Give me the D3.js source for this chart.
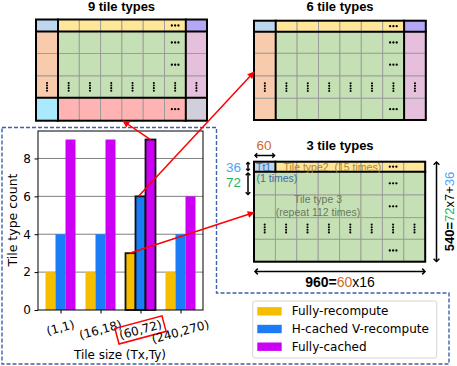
<!DOCTYPE html>
<html><head><meta charset="utf-8">
<script src="https://cdn.jsdelivr.net/npm/d3@7"></script>
<style>body{margin:0;background:#fff}svg{display:block}</style>
</head><body><svg id="c" width="457" height="366"></svg>
<script>
// ---------- data ----------
const categories = ["(1,1)", "(16,18)", "(60,72)", "(240,270)"];
const seriesNames = ["Fully-recompute", "H-cached V-recompute", "Fully-cached"];
const fullyRecompute = [2, 2, 3, 2];
const hCachedVRecompute = [4, 4, 6, 4];
const fullyCached = [9, 9, 9, 6];
const yTicks = [0, 2, 4, 6, 8];
const highlightIndex = 2;
const gridTitles = ["9 tile types", "6 tile types", "3 tile types"];

const colors = ["#f5bf00", "#1a7cf6", "#cc00f5"];
const series = [fullyRecompute, hCachedVRecompute, fullyCached];
const DV = "DejaVu Sans, sans-serif";
const LS = "Liberation Sans, Arial, sans-serif";

const svg = d3.select("#c");
const defs = svg.append("defs");
defs.append("marker").attr("id", "redhead").attr("viewBox", "0 0 10 10")
  .attr("refX", 9).attr("refY", 5).attr("markerWidth", 8).attr("markerHeight", 7)
  .attr("markerUnits", "userSpaceOnUse").attr("orient", "auto")
  .append("path").attr("d", "M0,0 L10,5 L0,10 Z").attr("fill", "#ff0000");

// ---------- dashed outline ----------
svg.append("path")
  .attr("d", "M2,127.5 L216.5,127.5 L216.5,293 L449,293 L449,364 L2,364 Z")
  .attr("fill", "none").attr("stroke", "#3d62a8").attr("stroke-width", 1.4)
  .attr("stroke-dasharray", "4,2");

// ---------- bar chart ----------
const x = d3.scaleLinear().domain([-0.5625, 3.5625]).range([38, 203]);
const y = d3.scaleLinear().domain([0, 9.45]).range([310, 131]);
const chart = svg.append("g");

chart.selectAll("line.grid").data(yTicks.filter(d => d > 0)).join("line")
  .attr("x1", 38).attr("x2", 203).attr("y1", d => y(d)).attr("y2", d => y(d))
  .attr("stroke", "#808080").attr("stroke-width", 1);

const bw = 0.25;
series.forEach((vals, si) => {
  chart.append("g").selectAll("rect").data(vals).join("rect")
    .attr("x", (d, i) => x(i + (si - 1) * bw - bw / 2))
    .attr("width", x(bw) - x(0))
    .attr("y", d => y(d))
    .attr("height", d => y(0) - y(d))
    .attr("fill", colors[si])
    .attr("stroke", (d, i) => i === highlightIndex ? "#111" : "none")
    .attr("stroke-width", 1.8);
});

chart.append("rect").attr("x", 38).attr("y", 131).attr("width", 165).attr("height", 179)
  .attr("fill", "none").attr("stroke", "#000").attr("stroke-width", 1);

const yAxis = chart.append("g").attr("transform", "translate(38,0)")
  .call(d3.axisLeft(y).tickValues(yTicks).tickSize(3.5).tickPadding(3.5).tickSizeOuter(0));
yAxis.select(".domain").remove();
yAxis.selectAll("text").attr("font-family", DV).attr("font-size", 12).attr("fill", "#000");

const xAxis = chart.append("g").attr("transform", "translate(0,310)")
  .call(d3.axisBottom(x).tickValues(d3.range(categories.length)).tickFormat("").tickSize(3.5).tickSizeOuter(0));
xAxis.select(".domain").remove();

const s15 = Math.sin(15 * Math.PI / 180), c15 = Math.cos(15 * Math.PI / 180);
categories.forEach((c, i) => {
  const t = chart.append("text").text(c).attr("font-family", DV).attr("font-size", 12)
    .attr("text-anchor", "middle").attr("dominant-baseline", "central");
  const w = t.node().getComputedTextLength();
  const cx = x(i), cy = 318 + (w * s15 + 13 * c15) / 2;
  t.attr("x", cx).attr("y", cy).attr("transform", `rotate(-15,${cx},${cy})`);
  if (i === highlightIndex) {
    chart.append("rect").attr("x", cx - w / 2 - 2.5).attr("y", cy - 8).attr("width", w + 5).attr("height", 16)
      .attr("fill", "none").attr("stroke", "#ff0000").attr("stroke-width", 1.5)
      .attr("transform", `rotate(-15,${cx},${cy})`);
  }
});

chart.append("text").text("Tile size (Tx,Ty)").attr("x", 120).attr("y", 355)
  .attr("font-family", DV).attr("font-size", 12).attr("text-anchor", "middle").attr("dominant-baseline", "central");
chart.append("text").text("Tile type count").attr("transform", "translate(12.5,220) rotate(-90)")
  .attr("font-family", DV).attr("font-size", 12.5).attr("text-anchor", "middle").attr("dominant-baseline", "central");

// ---------- tile grids ----------
const C = {tl: "#bdd7ee", top: "#ffe699", tr: "#b4a8f6", left: "#f8cbad", mid: "#c5e0b4",
           right: "#e6bfdd", bl: "#abe9fe", bot: "#ffb3b3", br: "#d1cfdc"};

function tileGrid(cfg) {
  const g = svg.append("g");
  const xs = [cfg.x0]; cfg.colW.forEach(w => xs.push(xs[xs.length - 1] + w));
  const ys = [cfg.y0]; cfg.rowH.forEach(h => ys.push(ys[ys.length - 1] + h));
  const cells = [];
  cfg.rowH.forEach((h, r) => cfg.colW.forEach((w, c) => cells.push({r, c})));
  g.selectAll("rect").data(cells).join("rect")
    .attr("x", d => xs[d.c]).attr("y", d => ys[d.r])
    .attr("width", d => cfg.colW[d.c]).attr("height", d => cfg.rowH[d.r])
    .attr("fill", d => cfg.fill(d.r, d.c)).attr("stroke", "#9a9a9a").attr("stroke-width", 0.9);
  cfg.hdots.forEach(([r, c]) => {
    const cx = (xs[c] + xs[c + 1]) / 2, cy = (ys[r] + ys[r + 1]) / 2;
    [-3.3, 0, 3.3].forEach(o => g.append("circle").attr("cx", cx + o).attr("cy", cy).attr("r", 1.15).attr("fill", "#000"));
  });
  cfg.vdots.forEach(([r, c]) => {
    const cx = (xs[c] + xs[c + 1]) / 2, cy = (ys[r] + ys[r + 1]) / 2;
    [-3.9, -1.3, 1.3, 3.9].forEach(o => g.append("circle").attr("cx", cx).attr("cy", cy + o).attr("r", 1.05).attr("fill", "#000"));
  });
  const L = (x1, y1, x2, y2) => g.append("line").attr("x1", x1).attr("y1", y1).attr("x2", x2).attr("y2", y2)
    .attr("stroke", "#000").attr("stroke-width", 2).attr("stroke-linecap", "square");
  cfg.thickV.forEach(([c, r1, r2]) => L(xs[c], ys[r1], xs[c], ys[r2]));
  cfg.thickH.forEach(([r, c1, c2]) => L(xs[c1], ys[r], xs[c2], ys[r]));
  g.append("rect").attr("x", xs[0]).attr("y", ys[0]).attr("width", xs[xs.length - 1] - xs[0])
    .attr("height", ys[ys.length - 1] - ys[0]).attr("fill", "none").attr("stroke", "#000").attr("stroke-width", 2);
  g.append("text").text(cfg.title).attr("x", cfg.tx).attr("y", cfg.ty).attr("text-anchor", "middle")
    .attr("font-family", LS).attr("font-weight", "bold").attr("font-size", 13);
  return {xs, ys, g};
}

const mid6 = d3.range(6).map(() => 21.3);
const vrow = r => d3.range(8).map(c => [r, c]);

tileGrid({
  title: gridTitles[0], tx: 121.5, ty: 11,
  x0: 36, y0: 19.5, colW: [22, ...mid6, 21.2], rowH: [12, 22, 22.5, 21.7, 23],
  fill: (r, c) => {
    const ct = c === 0 ? 0 : (c === 7 ? 2 : 1);
    const rt = r === 0 ? 0 : (r === 4 ? 2 : 1);
    return [[C.tl, C.top, C.tr], [C.left, C.mid, C.right], [C.bl, C.bot, C.br]][rt][ct];
  },
  hdots: [[0, 6], [1, 6], [2, 6], [4, 6]], vdots: vrow(3),
  thickV: [[1, 0, 5], [7, 0, 5]], thickH: [[1, 0, 8], [4, 0, 8]]
});

tileGrid({
  title: gridTitles[1], tx: 340, ty: 11,
  x0: 254, y0: 20.7, colW: [21.7, ...d3.range(6).map(() => 21.4), 21.7], rowH: [11, 21.6, 22.7, 22.3, 21.7],
  fill: (r, c) => {
    const ct = c === 0 ? 0 : (c === 7 ? 2 : 1);
    const rt = r === 0 ? 0 : 1;
    return [[C.tl, C.top, C.tr], [C.left, C.mid, C.right]][rt][ct];
  },
  hdots: [[0, 6], [1, 6], [2, 6], [4, 6]], vdots: vrow(3),
  thickV: [[1, 0, 5], [7, 0, 5]], thickH: [[1, 0, 8]]
});

tileGrid({
  title: gridTitles[2], tx: 340, ty: 150,
  x0: 254, y0: 161.7, colW: d3.range(8).map(() => 21.4), rowH: [10, 23.3, 22.7, 21.6, 22.4],
  fill: (r, c) => r === 0 ? (c === 0 ? C.tl : C.top) : C.mid,
  hdots: [[0, 6], [1, 6], [2, 6], [4, 6]], vdots: vrow(3),
  thickV: [[1, 0, 1]], thickH: [[1, 0, 8]]
});

// labels inside 3-tile grid
const ann = svg.append("g").attr("font-family", LS).attr("font-size", 10.5);
ann.append("text").text("Tt1").attr("x", 256).attr("y", 167).attr("dominant-baseline", "central").attr("fill", "#3b6db0");
ann.append("text").text("Tile type2\u00a0\u00a0(15 times)").attr("x", 283.5).attr("y", 167).attr("dominant-baseline", "central")
  .attr("fill", "#a98535");
ann.append("text").text("(1 times)").attr("x", 256.5).attr("y", 177.5).attr("dominant-baseline", "central").attr("fill", "#3b6db0");
ann.append("text").text("Tile type 3").attr("x", 318).attr("y", 198.5).attr("text-anchor", "middle").attr("dominant-baseline", "central").attr("fill", "#687a5c");
ann.append("text").text("(repeat 112 times)").attr("x", 318).attr("y", 212).attr("text-anchor", "middle").attr("dominant-baseline", "central").attr("fill", "#687a5c");

// ---------- dimension arrows ----------
function dblArrow(x1, y1, x2, y2, hs = 3.2) {
  const g = svg.append("g").attr("stroke", "#000").attr("stroke-width", 1.5).attr("fill", "none");
  g.append("line").attr("x1", x1).attr("y1", y1).attr("x2", x2).attr("y2", y2);
  const a = Math.atan2(y2 - y1, x2 - x1);
  const head = (px, py, ang) => {
    const p1 = [px - hs * Math.cos(ang - 0.8), py - hs * Math.sin(ang - 0.8)];
    const p2 = [px - hs * Math.cos(ang + 0.8), py - hs * Math.sin(ang + 0.8)];
    g.append("polyline").attr("points", `${p1} ${px},${py} ${p2}`);
  };
  head(x2, y2, a); head(x1, y1, a + Math.PI);
}
dblArrow(255, 155.5, 274.5, 155.5);
dblArrow(248, 162.5, 248, 170.5, 2.5);
dblArrow(248, 173, 248, 194.5);
dblArrow(436.5, 162, 436.5, 261.5, 4);
dblArrow(255, 271.5, 425, 271.5, 4);

const dims = svg.append("g").attr("font-family", LS).attr("font-size", 13.5);
dims.append("text").text("60").attr("x", 264).attr("y", 145).attr("text-anchor", "middle").attr("dominant-baseline", "central").attr("fill", "#d06a2a");
dims.append("text").text("36").attr("x", 241).attr("y", 167).attr("text-anchor", "end").attr("dominant-baseline", "central").attr("fill", "#4da3f5");
dims.append("text").text("72").attr("x", 241).attr("y", 182).attr("text-anchor", "end").attr("dominant-baseline", "central").attr("fill", "#1fb25a");

const bt = dims.append("text").attr("x", 340).attr("y", 282).attr("text-anchor", "middle").attr("dominant-baseline", "central").attr("font-size", 14);
bt.append("tspan").text("960=").attr("font-weight", "bold").attr("fill", "#000");
bt.append("tspan").text("60").attr("fill", "#d06a2a");
bt.append("tspan").text("x16").attr("fill", "#000");

const vt = dims.append("text").attr("transform", "translate(449,211.5) rotate(-90)").attr("text-anchor", "middle").attr("dominant-baseline", "central").attr("font-size", 13);
vt.append("tspan").text("540=").attr("font-weight", "bold").attr("fill", "#000");
vt.append("tspan").text("72").attr("fill", "#1fb25a");
vt.append("tspan").text("x7+").attr("fill", "#000");
vt.append("tspan").text("36").attr("fill", "#4da3f5");

// ---------- red pointer arrows ----------
const bx = (si, i) => x(i + (si - 1) * bw);
const red = svg.append("g").attr("stroke", "#ff0000").attr("stroke-width", 1.5).attr("fill", "none");
const arrowsFrom = [
  [bx(2, highlightIndex), y(fullyCached[highlightIndex]), 123, 121],
  [bx(1, highlightIndex) - 2, y(hCachedVRecompute[highlightIndex]), 254, 72],
  [bx(0, highlightIndex) - 1, y(fullyRecompute[highlightIndex]), 254, 212.5]
];
arrowsFrom.forEach(([x1, y1, x2, y2]) => {
  red.append("line").attr("x1", x1).attr("y1", y1).attr("x2", x2).attr("y2", y2).attr("marker-end", "url(#redhead)");
});

// ---------- legend ----------
const lg = svg.append("g");
lg.append("rect").attr("x", 252.7).attr("y", 301).attr("width", 184).attr("height", 57).attr("rx", 2)
  .attr("fill", "#fff").attr("fill-opacity", 0.8).attr("stroke", "#d5d5d5").attr("stroke-width", 1);
seriesNames.forEach((n, i) => {
  const cy = 311.3 + i * 17.7;
  lg.append("rect").attr("x", 257.3).attr("y", cy - 4.2).attr("width", 24.4).attr("height", 8.4).attr("fill", colors[i]);
  lg.append("text").text(n).attr("x", 291.7).attr("y", cy).attr("dominant-baseline", "central")
    .attr("font-family", DV).attr("font-size", 12);
});
</script></body></html>
